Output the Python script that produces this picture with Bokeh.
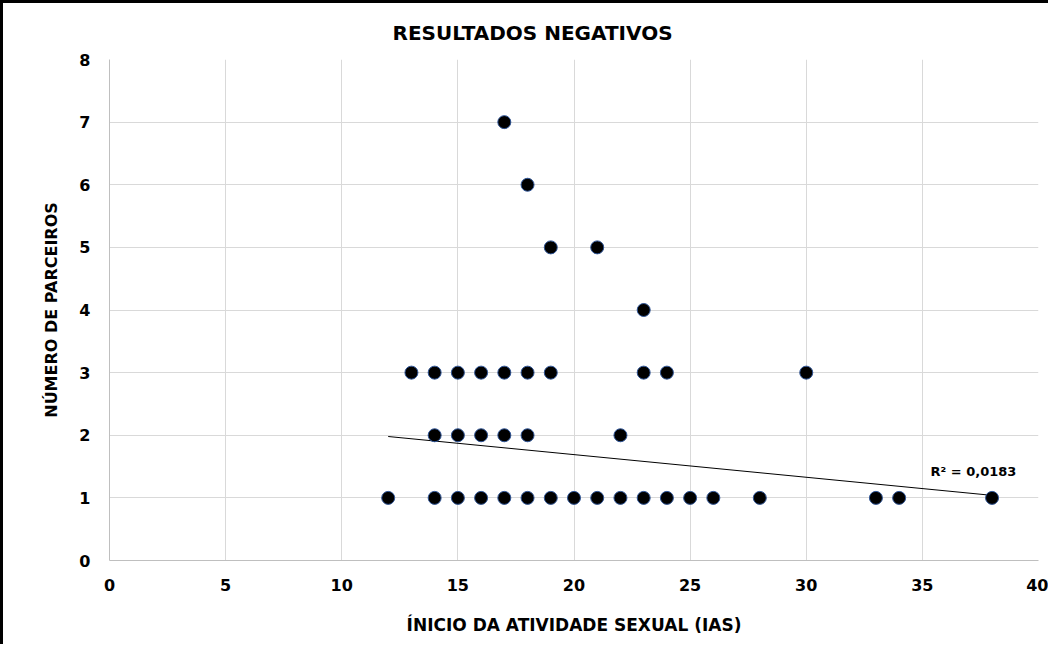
from bokeh.plotting import figure
from bokeh.models import Label, FixedTicker, ColumnDataSource
from bokeh.embed import file_html
from bokeh.resources import INLINE

# Data
ias = [12, 14, 15, 16, 17, 18, 19, 20, 21, 22, 23, 24, 25, 26, 28, 33, 34, 38,
       14, 15, 16, 17, 18, 22,
       13, 14, 15, 16, 17, 18, 19, 23, 24, 30,
       23,
       19, 21,
       18,
       17]
parceiros = [1] * 18 + [2] * 6 + [3] * 10 + [4] + [5, 5] + [6] + [7]

trend_x = [12, 38]
trend_y = [1.98, 1.04]
r2_text = "R² = 0,0183"

title_text = "RESULTADOS NEGATIVOS"
x_label = "ÍNICIO DA ATIVIDADE SEXUAL (IAS)"
y_label = "NÚMERO DE PARCEIROS"

x_ticks = [0, 5, 10, 15, 20, 25, 30, 35, 40]
y_ticks = [0, 1, 2, 3, 4, 5, 6, 7, 8]

FONT = "DejaVu Sans"

p = figure(width=1048, height=644, output_backend="svg", toolbar_location=None,
           x_range=(0, 40), y_range=(0, 8),
           min_border_left=106, min_border_right=13, min_border_top=55, min_border_bottom=87)
p.styles = {"border-left": "3px solid black", "border-top": "3px solid black"}

p.title.text = title_text
p.title.align = "left"
p.title.offset = 283
p.title.standoff = 30
p.title.text_font = FONT
p.title.text_font_style = "bold"
p.title.text_font_size = "20px"
p.title.text_color = "#000000"

p.outline_line_color = None
p.background_fill_color = "white"
p.border_fill_color = "white"

for ax in (p.xaxis[0], p.yaxis[0]):
    ax.axis_line_color = "#bfbfbf"
    ax.axis_line_width = 1
    ax.major_tick_line_color = None
    ax.minor_tick_line_color = None
    ax.major_tick_out = 0
    ax.major_tick_in = 0
    ax.major_label_text_font = FONT
    ax.major_label_text_font_style = "bold"
    ax.major_label_text_font_size = "16px"
    ax.major_label_text_color = "#000000"
    ax.axis_label_text_font = FONT
    ax.axis_label_text_font_style = "bold"
    ax.axis_label_text_color = "#000000"

p.xaxis.ticker = FixedTicker(ticks=x_ticks)
p.yaxis.ticker = FixedTicker(ticks=y_ticks)
p.xaxis.major_label_standoff = 18
p.yaxis.major_label_standoff = 19

p.xaxis.axis_label = x_label
p.xaxis.axis_label_text_font_size = "17px"
p.xaxis.axis_label_standoff = 21
p.yaxis.axis_label = y_label
p.yaxis.axis_label_text_font_size = "16px"
p.yaxis.axis_label_standoff = 15

p.grid.grid_line_color = "#d9d9d9"
p.grid.grid_line_width = 1

p.line(trend_x, trend_y, line_color="#000000", line_width=1)

src = ColumnDataSource(dict(x=ias, y=parceiros))
p.scatter("x", "y", source=src, size=13, fill_color="#000000", line_color="#2f5597", line_width=1)

p.add_layout(Label(x=35.35, y=1.42, text=r2_text, text_font=FONT,
                   text_font_style="bold", text_font_size="13px", text_color="#000000",
                   text_baseline="middle", text_align="left"))

open("out.html", "w").write(file_html(p, INLINE))
